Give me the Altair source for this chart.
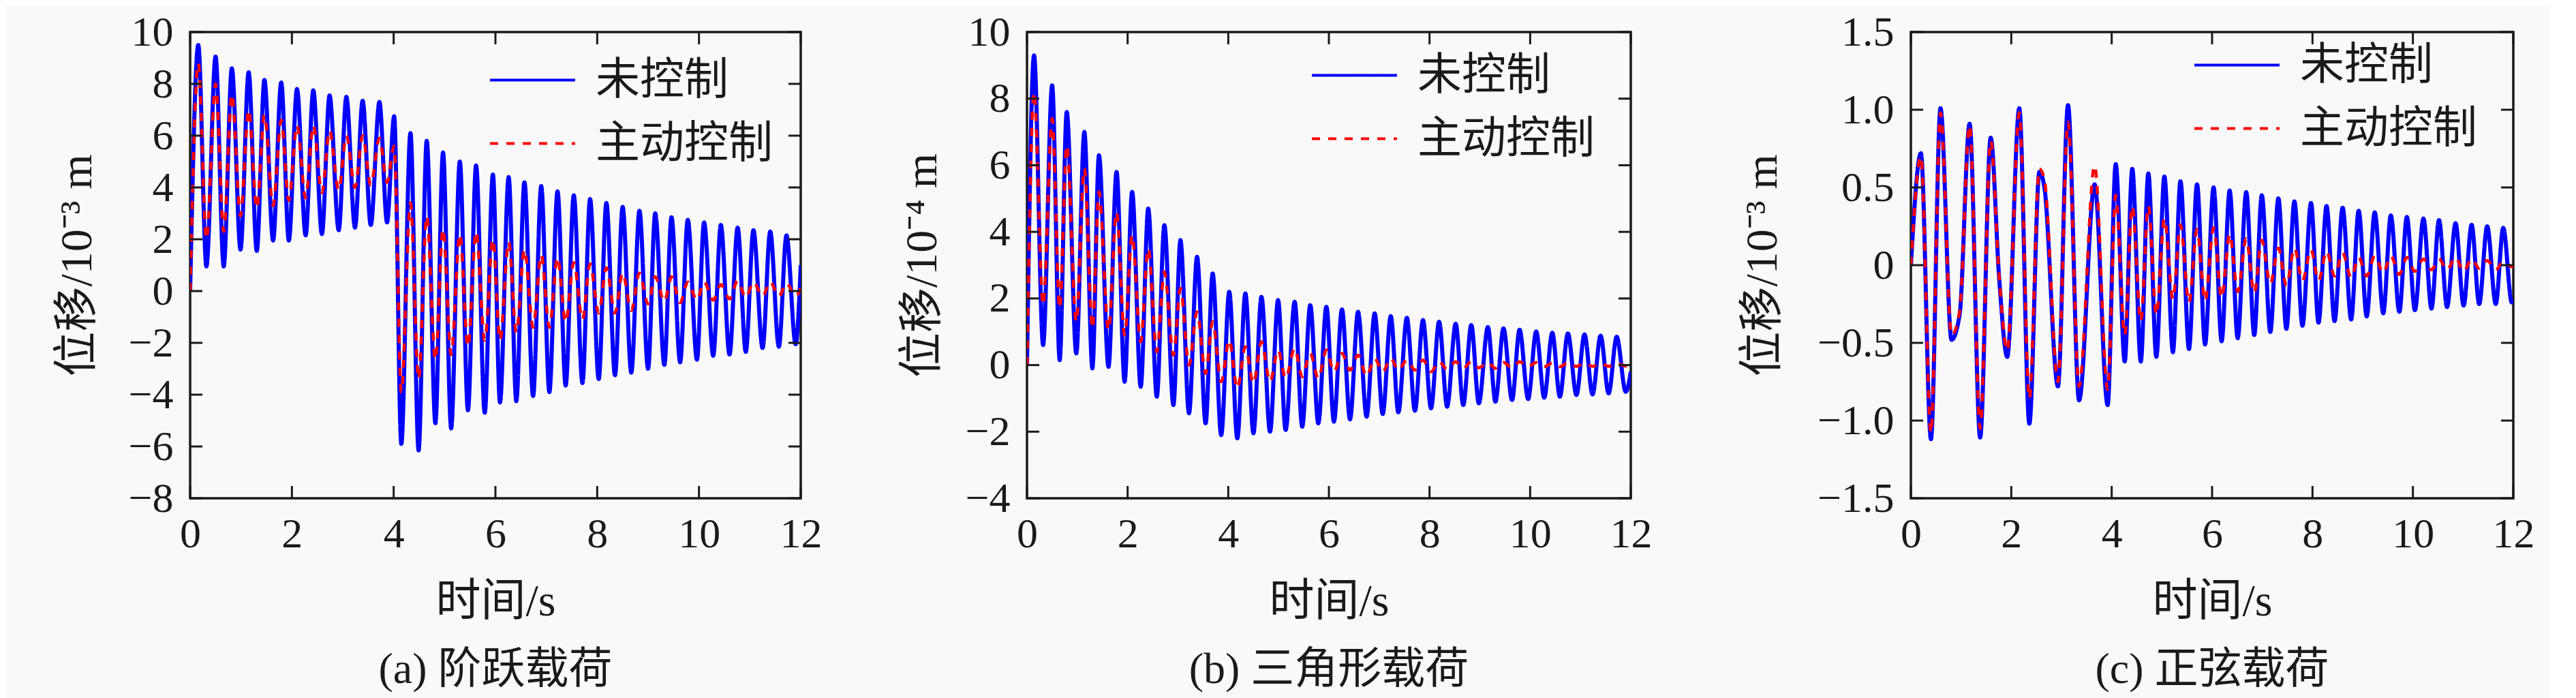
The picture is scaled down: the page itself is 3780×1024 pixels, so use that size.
import altair as alt
import pandas as pd

SERIES = ["未控制", "主动控制"]
X_TICKS = [0, 2, 4, 6, 8, 10, 12]

# ---------------- panel (a): step load ----------------
t_a = [0.00, 0.16, 0.32, 0.50, 0.66, 0.82, 0.99, 1.15, 1.31, 1.46, 1.63, 1.79, 1.94, 2.10, 2.27, 2.42,
       2.59, 2.74, 2.92, 3.07, 3.24, 3.39, 3.55, 3.72, 3.87, 4.01, 4.15, 4.33, 4.49, 4.65, 4.82, 4.97,
       5.13, 5.30, 5.46, 5.62, 5.79, 5.95, 6.09, 6.26, 6.41, 6.57, 6.74, 6.90, 7.06, 7.22, 7.38, 7.54,
       7.71, 7.86, 8.03, 8.18, 8.35, 8.50, 8.67, 8.83, 9.00, 9.14, 9.32, 9.46, 9.63, 9.78, 9.96, 10.10,
       10.28, 10.43, 10.60, 10.76, 10.92, 11.07, 11.25, 11.40, 11.57, 11.72, 11.90, 12.00]
unc_a = [0.0, 9.5, 0.95, 9.05, 0.95, 8.6, 1.6, 8.45, 1.55, 8.15, 1.95, 8.05, 1.95, 7.8, 2.15, 7.75,
         2.2, 7.55, 2.35, 7.5, 2.45, 7.35, 2.55, 7.3, 2.65, 6.75, -5.9, 6.1, -6.15, 5.8, -5.1, 5.35,
         -5.3, 5.0, -4.6, 4.85, -4.7, 4.5, -4.3, 4.4, -4.25, 4.2, -4.05, 4.05, -3.9, 3.85, -3.65, 3.7,
         -3.55, 3.55, -3.4, 3.4, -3.25, 3.25, -3.15, 3.1, -3.0, 3.0, -2.85, 2.85, -2.75, 2.75, -2.65, 2.65,
         -2.5, 2.55, -2.45, 2.45, -2.35, 2.35, -2.2, 2.3, -2.15, 2.15, -2.05, 1.0]
act_a = [0.0, 8.8, 2.0, 8.0, 2.3, 7.6, 2.9, 7.0, 3.2, 6.8, 3.3, 6.6, 3.5, 6.4, 3.6, 6.4,
         3.8, 6.2, 3.9, 6.0, 4.0, 6.0, 4.1, 5.9, 4.2, 5.6, -3.9, 3.4, -3.4, 2.9, -2.65, 2.4,
         -2.45, 2.2, -2.15, 2.3, -1.9, 2.0, -1.9, 1.9, -1.6, 1.6, -1.4, 1.4, -1.4, 1.3, -1.2, 1.1,
         -1.1, 1.05, -0.85, 0.9, -0.85, 0.7, -0.75, 0.7, -0.5, 0.55, -0.4, 0.55, -0.45, 0.35, -0.35, 0.35,
         -0.35, 0.25, -0.3, 0.4, -0.25, 0.35, -0.2, 0.35, -0.2, 0.3, -0.2, 0.1]
y_ticks_a = [-8, -6, -4, -2, 0, 2, 4, 6, 8, 10]

# ---------------- panel (b): triangular load ----------------
t_b = [0.00, 0.14, 0.32, 0.50, 0.65, 0.79, 0.98, 1.14, 1.30, 1.43, 1.62, 1.78, 1.94, 2.09, 2.26, 2.41,
       2.58, 2.73, 2.91, 3.05, 3.22, 3.38, 3.55, 3.69, 3.86, 4.02, 4.18, 4.34, 4.50, 4.66, 4.83, 4.99,
       5.14, 5.32, 5.47, 5.63, 5.79, 5.95, 6.10, 6.26, 6.42, 6.58, 6.75, 6.91, 7.07, 7.23, 7.38, 7.55,
       7.71, 7.87, 8.03, 8.19, 8.35, 8.52, 8.67, 8.83, 8.98, 9.16, 9.31, 9.47, 9.64, 9.79, 9.96, 10.12,
       10.28, 10.44, 10.59, 10.75, 10.92, 11.08, 11.24, 11.40, 11.56, 11.72, 11.90, 12.00]
unc_b = [0.0, 9.3, 0.6, 8.4, 0.15, 7.6, 0.35, 7.0, -0.1, 6.3, -0.05, 5.8, -0.5, 5.2, -0.65, 4.7,
         -0.95, 4.2, -1.2, 3.75, -1.45, 3.25, -1.75, 2.75, -2.1, 2.2, -2.2, 2.15, -2.05, 2.05, -2.0, 1.95,
         -1.95, 1.9, -1.85, 1.8, -1.75, 1.75, -1.7, 1.67, -1.63, 1.6, -1.55, 1.55, -1.47, 1.47, -1.42, 1.42,
         -1.37, 1.35, -1.3, 1.3, -1.25, 1.24, -1.2, 1.2, -1.15, 1.14, -1.1, 1.1, -1.05, 1.06, -1.02, 1.01,
         -0.98, 0.97, -0.95, 0.95, -0.9, 0.92, -0.88, 0.88, -0.85, 0.85, -0.8, -0.2]
act_b = [0.0, 8.2, 1.8, 7.4, 1.7, 6.6, 1.3, 5.9, 1.1, 5.2, 1.05, 4.6, 0.9, 3.9, 0.7, 3.5,
         0.4, 2.8, 0.3, 2.3, 0.0, 1.6, -0.25, 1.3, -0.5, 0.75, -0.7, 0.55, -0.55, 0.7, -0.5, 0.45,
         -0.4, 0.5, -0.35, 0.35, -0.4, 0.45, -0.2, 0.35, -0.15, 0.3, -0.33, 0.2, -0.2, 0.2, -0.15, 0.15,
         -0.15, 0.15, -0.2, 0.1, -0.12, 0.1, -0.1, 0.1, -0.08, 0.08, -0.1, 0.08, -0.08, 0.1, -0.05, 0.08,
         -0.05, 0.06, -0.05, 0.07, -0.04, 0.06, -0.04, 0.05, -0.04, 0.05, -0.03, 0.0]
y_ticks_b = [-4, -2, 0, 2, 4, 6, 8, 10]

# ---------------- panel (c): sine load ----------------
t_c = [0.00, 0.20, 0.40, 0.59, 0.81, 0.97, 1.17, 1.38, 1.59, 1.76, 1.92, 2.16, 2.36, 2.56, 2.66, 2.93,
       3.13, 3.35, 3.66, 3.92, 4.08, 4.26, 4.41, 4.58, 4.73, 4.89, 5.05, 5.22, 5.37, 5.54, 5.70, 5.86,
       6.03, 6.19, 6.35, 6.51, 6.68, 6.84, 6.99, 7.16, 7.32, 7.48, 7.64, 7.80, 7.97, 8.12, 8.28, 8.44,
       8.60, 8.77, 8.92, 9.08, 9.24, 9.41, 9.56, 9.73, 9.88, 10.04, 10.21, 10.37, 10.52, 10.68, 10.85,
       11.01, 11.17, 11.32, 11.48, 11.65, 11.80, 11.97, 12.00]
unc_c = [0.0, 0.72, -1.12, 1.01, -0.48, -0.32, 0.91, -1.11, 0.82, -0.09, -0.59, 1.01, -1.02, 0.60, 0.50, -0.78,
         1.03, -0.87, 0.52, -0.90, 0.65, -0.62, 0.62, -0.62, 0.59, -0.59, 0.57, -0.56, 0.54, -0.54, 0.52, -0.51,
         0.50, -0.49, 0.48, -0.47, 0.47, -0.45, 0.45, -0.43, 0.43, -0.41, 0.41, -0.39, 0.40, -0.37, 0.38, -0.36,
         0.37, -0.35, 0.35, -0.33, 0.34, -0.31, 0.32, -0.30, 0.31, -0.29, 0.30, -0.28, 0.29, -0.27, 0.27,
         -0.26, 0.26, -0.25, 0.25, -0.25, 0.24, -0.24, -0.22]
act_c = [0.0, 0.70, -1.08, 0.98, -0.45, -0.30, 0.90, -1.05, 0.80, -0.08, -0.55, 0.98, -0.86, 0.62, 0.55, -0.75,
         0.92, -0.78, 0.64, -0.80, 0.45, -0.45, 0.38, -0.36, 0.38, -0.32, 0.30, -0.22, 0.26, -0.24, 0.23, -0.23,
         0.24, -0.21, 0.20, -0.17, 0.17, -0.18, 0.16, -0.12, 0.11, -0.13, 0.11, -0.10, 0.10, -0.10, 0.09, -0.07,
         0.08, -0.08, 0.05, -0.07, 0.06, -0.05, 0.06, -0.06, 0.05, -0.04, 0.04, -0.03, 0.04, -0.03, 0.05,
         -0.04, 0.04, -0.02, 0.03, -0.03, 0.02, -0.01, 0.0]
y_ticks_c = [-1.5, -1.0, -0.5, 0.0, 0.5, 1.0, 1.5]

FONT = "'Liberation Serif', 'Times New Roman', 'Noto Sans CJK SC', serif"
INK = "#1a1a1a"
H = 684
TL = 18  # inward tick length
LABEL_FS = 62
TITLE_FS = 66


def panel(t, unc, act, yticks, ytitle, caption, W, title_x, leg_x, leg_y, label_expr):
    df = pd.DataFrame({
        "t": list(t) + list(t),
        "v": list(unc) + list(act),
        "s": [SERIES[0]] * len(t) + [SERIES[1]] * len(t),
    })
    xsc = alt.Scale(domain=[0, 12], nice=False, zero=False)
    ysc = alt.Scale(domain=[yticks[0], yticks[-1]], nice=False, zero=False)
    xaxis = alt.Axis(values=X_TICKS, format="d", title="时间/s", grid=False, domain=False,
                     ticks=False, tickSize=0,
                     labelFont=FONT, labelFontSize=LABEL_FS, labelColor=INK, labelPadding=22,
                     labelFlush=False, labelOverlap=False,
                     titleFont=FONT, titleFontSize=TITLE_FS, titleFontWeight="normal", titleColor=INK,
                     titlePadding=36)
    yaxis = alt.Axis(values=yticks, labelExpr=label_expr, title=ytitle, grid=False, domain=False,
                     ticks=False, tickSize=0,
                     labelFont=FONT, labelFontSize=LABEL_FS, labelColor=INK, labelPadding=25,
                     labelFlush=False, labelOverlap=False,
                     titleFont=FONT, titleFontSize=TITLE_FS, titleFontWeight="normal", titleColor=INK,
                     titleX=title_x, titleY=H / 2, titleBaseline="middle", titleAngle=270)
    leg = dict(title=None, orient="none", legendX=leg_x, legendY=leg_y, direction="vertical",
               labelFont=FONT, labelFontSize=65, labelColor=INK, labelOffset=44, labelLimit=0,
               symbolType="M-1.344,0H1.344", symbolSize=8649, symbolStrokeWidth=4,
               rowPadding=11, padding=0)
    color = alt.Color("s:N", scale=alt.Scale(domain=SERIES, range=["#0000ff", "#ff0000"]),
                      legend=alt.Legend(**leg))
    dash = alt.StrokeDash("s:N", scale=alt.Scale(domain=SERIES, range=[[1, 0], [12, 12]]),
                          legend=alt.Legend(**leg))
    base = alt.Chart(df).encode(
        x=alt.X("t:Q", scale=xsc, axis=xaxis),
        y=alt.Y("v:Q", scale=ysc, axis=yaxis),
        color=color, strokeDash=dash)
    blue = base.transform_filter(alt.datum.s == SERIES[0]).mark_line(
        strokeWidth=6, interpolate="monotone", clip=True)
    red = base.transform_filter(alt.datum.s == SERIES[1]).mark_line(
        strokeWidth=4.5, interpolate="monotone", clip=True)

    xt = pd.DataFrame({"t": X_TICKS})
    yt = pd.DataFrame({"v": yticks})
    tick = dict(color=INK, strokeWidth=3)
    bottom = alt.Chart(xt).mark_rule(**tick).encode(
        x=alt.X("t:Q", scale=xsc), y=alt.value(H), y2=alt.value(H - TL))
    top = alt.Chart(xt).mark_rule(**tick).encode(
        x=alt.X("t:Q", scale=xsc), y=alt.value(0), y2=alt.value(TL))
    left = alt.Chart(yt).mark_rule(**tick).encode(
        y=alt.Y("v:Q", scale=ysc), x=alt.value(0), x2=alt.value(TL))
    right = alt.Chart(yt).mark_rule(**tick).encode(
        y=alt.Y("v:Q", scale=ysc), x=alt.value(W), x2=alt.value(W - TL))

    return alt.layer(blue, red, bottom, top, left, right).properties(
        width=W, height=H,
        title=alt.TitleParams(caption, orient="bottom", anchor="middle", frame="group",
                              font=FONT, fontSize=64, fontWeight="normal", color=INK, offset=36))


INT_LABELS = "format(datum.value, 'd')"
DEC_LABELS = "datum.value == 0 ? '0' : format(datum.value, '.1f')"

pa = panel(t_a, unc_a, act_a, y_ticks_a, "位移/10⁻³ m", "(a) 阶跃载荷", 896, -166, 454, 22, INT_LABELS)
pb = panel(t_b, unc_b, act_b, y_ticks_b, "位移/10⁻⁴ m", "(b) 三角形载荷", 886, -154, 432, 15, INT_LABELS)
pc = panel(t_c, unc_c, act_c, y_ticks_c, "位移/10⁻³ m", "(c) 正弦载荷", 884, -218, 430, 0, DEC_LABELS)

RES = dict(color="independent", strokeDash="independent", x="independent", y="independent")
LRES = dict(color="independent", strokeDash="independent")

ab = alt.hconcat(pa, pb, spacing=110).resolve_scale(**RES).resolve_legend(**LRES)
chart = alt.hconcat(ab, pc, spacing=125).resolve_scale(**RES).resolve_legend(**LRES).properties(
    padding={"left": 70, "top": 6, "right": 20, "bottom": 10},
    background="#f9f9f9",
).configure_view(stroke=INK, strokeWidth=3.5)

chart.save("out.html", embed_options={"renderer": "svg", "actions": False})
